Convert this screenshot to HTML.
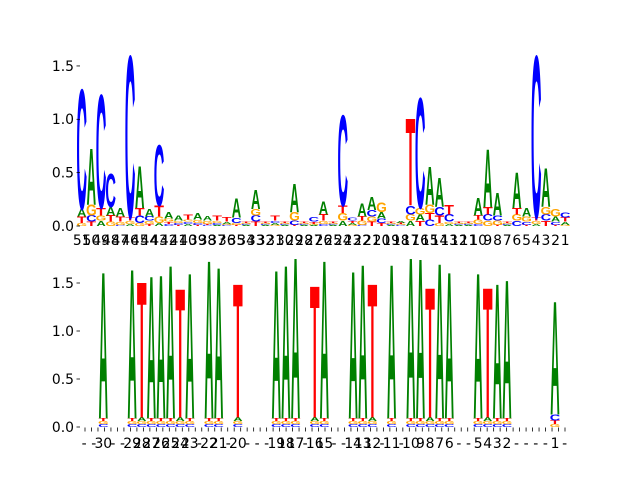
<!DOCTYPE html>
<html><head><meta charset="utf-8"><style>
html,body{margin:0;padding:0;background:#fff;}
svg{display:block;font-family:"DejaVu Sans","Liberation Sans",sans-serif;}
</style></head><body>
<svg id="chart" width="640" height="480" viewBox="0 0 640 480" xmlns="http://www.w3.org/2000/svg">
<g id="top"></g>
<g id="bot"></g>
</svg>
<script>
const topLabels = ["51","50","49","48","47","46","45","44","43","42","41","40","39","38","37","36","35","34","33","32","31","30","29","28","27","26","25","24","23","22","21","20","19","18","17","16","15","14","13","12","11","10","9","8","7","6","5","4","3","2","1"];
const topA = [.07,.52,.05,.08,.08,.02,.39,.07,.03,.06,.05,.02,.06,.04,.01,.02,.18,.01,.18,.01,.02,.01,.26,.01,.01,.12,.01,.05,.02,.12,.12,.06,.01,.02,.05,.06,.35,.27,.02,.01,.01,.16,.54,.21,.01,.33,.08,.02,.36,.05,.03];
const topC = [1.11,.06,1.05,.31,.01,1.50,.07,.04,.56,.02,.02,.02,.02,.01,.02,.01,.05,.01,.06,.01,.02,.01,.04,.01,.04,.02,.01,.84,.03,.01,.06,.04,.01,.01,.08,1.02,.06,.08,.07,.01,.01,.02,.06,.05,.01,.05,.03,1.50,.06,.03,.05];
const topG = [.03,.10,.05,.04,.03,.03,.03,.03,.06,.03,.02,.02,.03,.03,.02,.01,.02,.01,.06,.01,.01,.01,.08,.01,.01,.03,.01,.07,.01,.04,.05,.09,.01,.01,.06,.06,.08,.03,.02,.01,.01,.04,.05,.04,.01,.06,.05,.03,.07,.07,.01];
const topT = [.06,.04,.07,.06,.05,.03,.07,.02,.10,.02,.01,.05,.01,.01,.05,.04,.01,.01,.04,.01,.05,.01,.01,.01,.02,.06,.01,.07,.02,.04,.04,.03,.01,.01,.81,.05,.06,.07,.09,.01,.01,.04,.07,.01,.01,.06,.01,.03,.05,.01,.04];
const topYTicks = [0,0.5,1.0,1.5];
const topYLabels = ["0.0","0.5","1.0","1.5"];

const botLabels = ["-","-","30","-","-","29","28","27","26","25","24","23","-","22","21","-","20","-","-","-","19","18","17","-","16","15","-","-","14","13","12","-","11","-","10","9","8","7","6","-","-","5","4","3","2","-","-","-","-","1","-"];
const botA = [0,0,1.51,0,0,1.54,.04,1.47,1.48,1.58,.04,1.50,0,1.63,1.56,0,.04,0,0,0,1.53,1.58,1.66,0,.04,1.63,0,0,1.52,1.59,.04,0,1.59,0,1.66,1.65,.04,1.60,1.51,0,0,1.50,.04,1.39,1.43,0,0,0,0,1.17,0];
const botC = [0,0,.03,0,0,.03,.03,.03,.03,.03,.03,.03,0,.03,.03,0,.03,0,0,0,.03,.03,.03,0,.03,.03,0,0,.03,.03,.03,0,.03,0,.03,.03,.03,.03,.03,0,0,.03,.03,.03,.03,0,0,0,0,.06,0];
const botG = [0,0,.03,0,0,.03,.03,.03,.03,.03,.03,.03,0,.03,.03,0,.03,0,0,0,.03,.03,.03,0,.03,.03,0,0,.03,.03,.03,0,.03,0,.03,.03,.03,.03,.03,0,0,.03,.03,.03,.03,0,0,0,0,.03,0];
const botT = [0,0,.03,0,0,.03,1.40,.03,.03,.03,1.33,.03,0,.03,.03,0,1.38,0,0,0,.03,.03,.03,0,1.36,.03,0,0,.03,.03,1.38,0,.03,0,.03,.03,1.34,.03,.03,0,0,.03,1.34,.03,.03,0,0,0,0,.04,0];
const botYTicks = [0,0.5,1.0,1.5];
const botYLabels = ["0.0","0.5","1.0","1.5"];

const NS="http://www.w3.org/2000/svg";
const COL={A:"#008000",C:"#0000ff",G:"#ffa500",T:"#ff0000"};
const INK={A:72,C:64,G:68,T:59};
function mk(tag,attrs,parent){const e=document.createElementNS(NS,tag);for(const k in attrs)e.setAttribute(k,attrs[k]);parent.appendChild(e);return e;}

function drawPanel(g,cfg){
  const xs=j=>cfg.x0+cfg.step*j;
  const ys=v=>cfg.y0-cfg.ppu*v;
  const w=cfg.step*0.97;
  const n=cfg.A.length;
  for(let j=0;j<n;j++){
    const items=[["A",cfg.A[j]],["C",cfg.C[j]],["G",cfg.G[j]],["T",cfg.T[j]]].filter(d=>d[1]>0).sort((a,b)=>a[1]-b[1]);
    let base=0;
    for(const [ch,h] of items){
      const t=mk("text",{x:0,y:0,"text-anchor":"middle","font-size":100,"font-weight":"bold","font-family":"Liberation Sans, sans-serif",fill:COL[ch],
        transform:`translate(${xs(j)},${ys(base)}) scale(${w/INK[ch]},${(h*cfg.ppu)/68.8})`},g);
      
      
      t.textContent=ch;
      base+=h;
    }
  }
  cfg.yt.forEach((v,i)=>{
    const tk=mk("line",{x1:cfg.axL-3.5,x2:cfg.axL,y1:ys(v),y2:ys(v),stroke:"#000","stroke-width":0.8},g);
    
    
    const lb=mk("text",{x:cfg.axL-6,y:ys(v)+4.8,"text-anchor":"end","font-size":13.9,fill:"#000"},g);
    
    
    lb.textContent=cfg.yl[i];
  });
  cfg.xl.forEach((s,j)=>{
    const lb=mk("text",{x:xs(j),y:cfg.y0+cfg.labDy,"text-anchor":"middle","font-size":13.9,fill:"#000"},g);
    
    
    lb.textContent=s;
  });
}

drawPanel(document.getElementById('top'),{x0:81.7,step:9.67,y0:226,ppu:106.7,axL:80,A:topA,C:topC,G:topG,T:topT,yt:topYTicks,yl:topYLabels,xl:topLabels,labDy:19});
const bg=document.getElementById('bot');
for(let k=0;k<75;k++){
  const x=85+k*480/74;
  const tk=mk("line",{x1:x,x2:x,y1:427.5,y2:431.5,stroke:"#000","stroke-width":0.8},bg);
  
  
}
drawPanel(bg,{x0:84.1,step:9.61,y0:427,ppu:96,axL:80,A:botA,C:botC,G:botG,T:botT,yt:botYTicks,yl:botYLabels,xl:botLabels,labDy:21});
</script>
</body></html>
